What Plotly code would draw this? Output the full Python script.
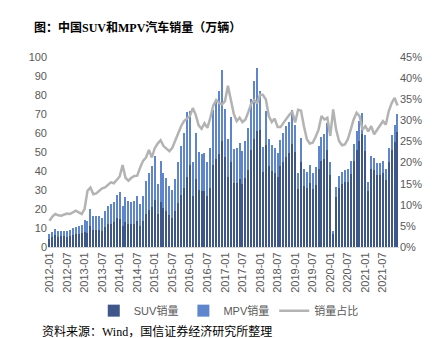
import plotly.graph_objects as go

months = [f"{y}-{m:02d}" for y in range(2012, 2022) for m in range(1, 13)]

suv = [
    4.4, 5.1, 6.2, 5.3, 5.6, 5.6, 5.3, 5.9, 6.5, 7.0, 7.1, 7.6,
    7.9, 7.4, 11.1, 9.1, 8.9, 9.0, 8.4, 10.3, 11.9, 12.3, 13.0, 15.1,
    14.6, 10.9, 13.2, 12.0, 11.9, 12.0, 13.5, 11.3, 13.5, 17.5, 19.5, 21.3,
    25.0, 17.3, 23.6, 20.3, 18.9, 16.7, 15.5, 18.7, 23.2, 27.6, 31.2, 36.9,
    43.0, 27.0, 36.0, 29.9, 29.5, 29.6, 27.0, 31.3, 43.2, 46.2, 49.2, 55.8,
    47.2, 37.1, 44.5, 33.5, 33.9, 35.8, 32.9, 36.2, 40.6, 50.8, 56.8, 61.2,
    61.5, 39.3, 53.6, 42.8, 40.1, 39.0, 37.1, 42.4, 45.0, 47.6, 49.5, 54.2,
    49.9, 30.3, 44.9, 32.0, 30.8, 33.5, 30.4, 32.8, 41.3, 45.2, 46.3, 51.1,
    37.8, 7.0, 26.5, 31.2, 33.1, 34.0, 34.4, 38.2, 45.4, 51.2, 55.7, 59.4,
    50.7, 29.5, 41.3, 40.4, 37.8, 37.8, 39.0, 35.3, 44.7, 50.8, 55.4, 60.4,
]

mpv = [
    2.4, 2.8, 3.4, 2.9, 3.0, 3.0, 2.9, 3.2, 3.5, 3.7, 3.8, 4.1,
    6.5, 6.1, 9.1, 7.4, 7.3, 7.3, 6.9, 8.4, 9.8, 10.1, 10.7, 12.3,
    14.5, 10.8, 13.1, 12.0, 11.8, 12.0, 13.5, 11.2, 13.5, 17.5, 19.5, 21.2,
    23.0, 16.0, 21.8, 18.7, 17.4, 15.5, 14.3, 17.3, 21.4, 25.4, 28.8, 34.0,
    28.7, 18.0, 24.0, 19.9, 19.6, 19.8, 18.0, 20.8, 28.8, 30.8, 32.8, 37.2,
    25.4, 19.9, 23.9, 18.0, 18.3, 19.2, 17.7, 19.5, 21.9, 27.3, 30.6, 33.0,
    20.5, 13.1, 17.8, 14.2, 13.4, 13.0, 12.4, 14.1, 15.0, 15.9, 16.5, 18.1,
    14.1, 8.5, 12.6, 9.0, 8.7, 9.5, 8.6, 9.2, 11.7, 12.8, 13.0, 14.4,
    7.2, 1.3, 5.0, 6.0, 6.3, 6.5, 6.6, 7.3, 8.6, 9.8, 10.6, 11.3,
    8.3, 4.8, 6.7, 6.6, 6.2, 6.2, 6.4, 5.7, 7.3, 8.3, 9.0, 9.8,
]

share = [
    6.2, 7.2, 7.8, 7.5, 7.4, 7.6, 7.9, 7.8, 8.2, 8.6, 8.2, 7.8,
    9.0, 13.3, 14.1, 12.5, 12.7, 13.3, 13.9, 14.1, 14.6, 15.3, 15.1, 16.0,
    16.7, 19.4, 16.4, 15.7, 16.4, 16.8, 16.9, 18.8, 20.4, 21.2, 23.0, 21.2,
    23.4, 24.5, 25.3, 23.9, 23.2, 22.7, 23.5, 25.2, 27.0, 28.6, 29.8, 30.3,
    31.0, 32.9, 31.3, 28.8, 28.0, 29.3, 28.2, 30.6, 33.5, 34.8, 34.1, 33.8,
    34.5, 38.2, 34.5, 31.6, 29.8, 30.6, 29.6, 30.2, 32.0, 34.0, 34.8, 34.0,
    36.1, 36.0, 34.9, 31.0, 29.6, 30.4, 28.4, 28.4, 29.4, 30.5, 31.3, 32.0,
    29.5, 32.5, 32.3, 28.6, 25.5, 24.5, 24.7, 26.1, 27.8, 31.0, 30.2, 30.6,
    26.3, 32.6, 27.8, 25.1, 24.1, 24.3, 25.5, 27.8, 30.2, 31.8, 31.0, 27.8,
    28.6, 27.4, 28.6, 26.7, 27.8, 28.6, 29.8, 29.0, 32.2, 34.1, 35.3, 33.5,
]

tick_labels = months[::6]

title_text = "图：中国SUV和MPV汽车销量（万辆）"
source_text = "资料来源：Wind，国信证券经济研究所整理"

grey = "#595959"
font_family = "Liberation Sans, Noto Sans CJK SC, sans-serif"

fig = go.Figure()
fig.add_trace(go.Bar(x=months, y=suv, name="SUV销量", marker_color="#0E2C6E",
                     marker_line_width=0, opacity=0.8))
fig.add_trace(go.Bar(x=months, y=mpv, name="MPV销量", marker_color="#4472C4",
                     marker_line_width=0, opacity=0.85))
fig.add_trace(go.Scatter(x=months, y=share, name="销量占比", yaxis="y2",
                         mode="lines", line=dict(color="#B3B3B3", width=2.5)))

fig.update_layout(
    width=439, height=338,
    margin=dict(l=48, r=40, t=57, b=91),
    paper_bgcolor="white", plot_bgcolor="white",
    barmode="stack", bargap=0.62,
    font=dict(family=font_family, size=11, color=grey),
    showlegend=True,
    legend=dict(orientation="h", x=0.515, xanchor="center", y=-0.335, yanchor="middle",
                font=dict(size=11, color=grey), itemwidth=30, tracegroupgap=0,
                traceorder="normal", bgcolor="rgba(0,0,0,0)"),
    xaxis=dict(type="category", tickmode="array", tickvals=tick_labels,
               ticktext=tick_labels, tickangle=-90, showgrid=False,
               showline=True, linecolor="#D9D9D9", linewidth=1,
               ticks="", tickfont=dict(size=11, color=grey)),
    yaxis=dict(range=[0, 100], dtick=10, showgrid=False, zeroline=False,
               ticks="", tickfont=dict(size=11, color=grey)),
    yaxis2=dict(range=[0, 45], dtick=5, overlaying="y", side="right",
                ticksuffix="%", showgrid=False, zeroline=False, ticks="",
                tickfont=dict(size=11, color=grey)),
    annotations=[
        dict(text="<b>" + title_text + "</b>", xref="paper", yref="paper",
             x=(32 - 48) / 351, y=(247.3 - 28) / 190, xanchor="left", yanchor="middle",
             showarrow=False,
             font=dict(family="Liberation Serif, Noto Sans CJK SC, serif", size=12, color="#000000")),
        dict(text=source_text, xref="paper", yref="paper",
             x=(40 - 48) / 351, y=(247.3 - 322) / 190, xanchor="left", yanchor="top",
             showarrow=False,
             font=dict(family="Liberation Serif, Noto Sans CJK SC, serif", size=12, color="#000000")),
    ],
)

fig.write_html("out.html")
